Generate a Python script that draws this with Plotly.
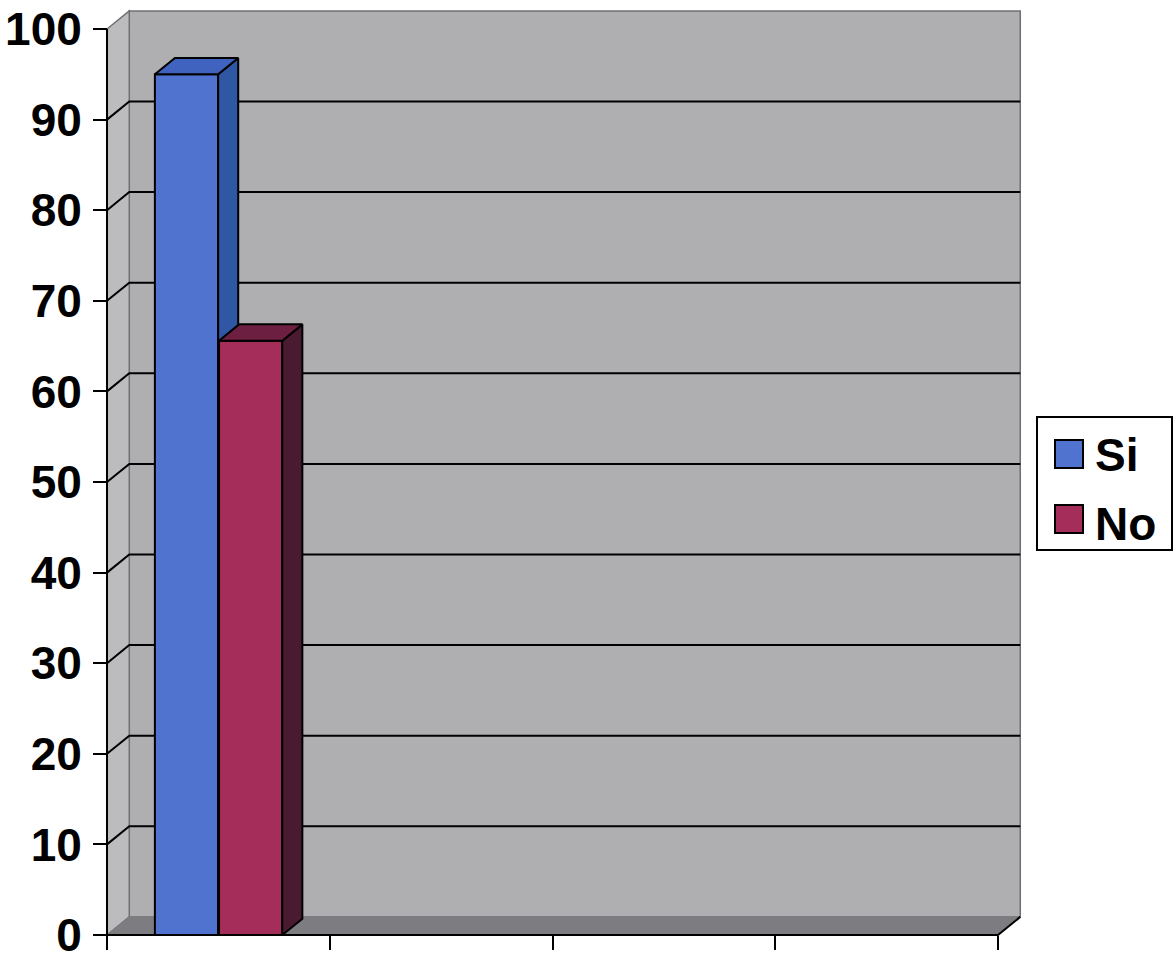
import plotly.graph_objects as go

# ---------------- data ----------------
categories = ["", "", "", ""]          # four category slots, no labels shown
series_names = ["Si", "No"]
si_values = [95, None, None, None]
no_values = [65.6, None, None, None]
y_ticks = [0, 10, 20, 30, 40, 50, 60, 70, 80, 90, 100]

# ---------------- style / geometry ----------------
W, H = 1174, 957
PX_X0, PX_PER_X = 107, 222.75      # pixel of x=0, pixels per category
PY_Y0, PX_PER_Y = 935, 9.06        # pixel of y=0, pixels per unit
ML, MR, MT, MB = 103, 150, 8, 19
DX, DY = 0.1, 2.0                  # chart depth (x units, y units)
BAR_DX, BAR_DY = 0.09, 1.8         # bar depth
BAR_START, BAR_W, BAR_GAP = 0.215, 0.284, 0.004

x_min = (ML - PX_X0) / PX_PER_X
x_max = (W - MR - PX_X0) / PX_PER_X
y_min = (PY_Y0 - (H - MB)) / PX_PER_Y
y_max = (PY_Y0 - MT) / PX_PER_Y
plot_w = W - ML - MR
plot_h = H - MT - MB

FONT = "Liberation Sans, Arial, sans-serif"
COLORS = {
    "Si": dict(front="#4F73CE", side="#2F57A3", top="#3F63BF"),
    "No": dict(front="#A52D59", side="#4A1B30", top="#6C1F40"),
}
WALL_BACK = "#AFAFB2"
WALL_SIDE = "#BCBCBF"
FLOOR = "#7D7D81"
WALL_EDGE = "#707074"


def px2paper_x(px):
    return (px - ML) / plot_w


def px2paper_y(py):
    return (H - MB - py) / plot_h


n_cat = len(categories)
fig = go.Figure()


def path(points):
    return "M " + " L ".join(f"{x},{y}" for x, y in points) + " Z"


# walls and floor (background structure)
shapes = [
    dict(type="path", xref="x", yref="y", layer="below",
         path=path([(DX, DY), (n_cat + DX, DY), (n_cat + DX, 100 + DY), (DX, 100 + DY)]),
         fillcolor=WALL_BACK, line=dict(color=WALL_EDGE, width=1.5)),
    dict(type="path", xref="x", yref="y", layer="below",
         path=path([(0, 0), (DX, DY), (DX, 100 + DY), (0, 100)]),
         fillcolor=WALL_SIDE, line=dict(color=WALL_EDGE, width=1.5)),
    dict(type="path", xref="x", yref="y", layer="below",
         path=path([(0, 0), (n_cat, 0), (n_cat + DX, DY), (DX, DY)]),
         fillcolor=FLOOR, line=dict(color=FLOOR, width=0.5)),
]

# gridlines on side + back wall
gx, gy = [], []
for v in y_ticks[1:-1]:
    gx += [0, DX, n_cat + DX, None]
    gy += [v, v + DY, v + DY, None]
fig.add_trace(go.Scatter(x=gx, y=gy, mode="lines", line=dict(color="black", width=2),
                         hoverinfo="skip", showlegend=False))

# front axis lines
fig.add_trace(go.Scatter(x=[0, 0, None, 0, n_cat, n_cat + DX],
                         y=[0, 100, None, 0, 0, DY], mode="lines",
                         line=dict(color="black", width=2), hoverinfo="skip",
                         showlegend=False))


# bars (front, side, top faces from the values)
def add_bar(name, values, offset):
    c = COLORS[name]
    for i, v in enumerate(values):
        if v is None:
            continue
        x0 = i + offset
        x1 = x0 + BAR_W
        faces = [
            ("front", [x0, x1, x1, x0, x0], [0, 0, v, v, 0]),
            ("side", [x1, x1 + BAR_DX, x1 + BAR_DX, x1, x1], [0, BAR_DY, v + BAR_DY, v, 0]),
            ("top", [x0, x1, x1 + BAR_DX, x0 + BAR_DX, x0], [v, v, v + BAR_DY, v + BAR_DY, v]),
        ]
        for face, fx, fy in faces:
            fig.add_trace(go.Scatter(
                x=fx, y=fy, mode="lines", fill="toself", fillcolor=c[face],
                line=dict(color="black", width=2), name=name,
                hovertemplate=f"{name}: {v}<extra></extra>", showlegend=False))


add_bar("Si", si_values, BAR_START)
add_bar("No", no_values, BAR_START + BAR_W + BAR_GAP)

# custom legend
lx0, lx1, ly0, ly1 = 1037, 1172, 417, 550
shapes.append(dict(type="rect", xref="paper", yref="paper",
                   x0=px2paper_x(lx0), x1=px2paper_x(lx1),
                   y0=px2paper_y(ly1), y1=px2paper_y(ly0),
                   fillcolor="white", line=dict(color="black", width=2)))
annotations = []
for k, name in enumerate(series_names):
    cy = 454 + k * 65
    shapes.append(dict(type="rect", xref="paper", yref="paper",
                       x0=px2paper_x(1055), x1=px2paper_x(1083),
                       y0=px2paper_y(cy + 14), y1=px2paper_y(cy - 14),
                       fillcolor=COLORS[name]["front"], line=dict(color="black", width=2)))
    annotations.append(dict(xref="paper", yref="paper", x=px2paper_x(1093),
                            y=px2paper_y(cy + 1 + 4 * k), xanchor="left", yanchor="middle",
                            text=name, showarrow=False,
                            font=dict(family=FONT, size=46, color="black", weight="bold")))

fig.update_layout(
    width=W, height=H,
    margin=dict(l=ML, r=MR, t=MT, b=MB, pad=0, autoexpand=False),
    paper_bgcolor="white", plot_bgcolor="white",
    shapes=shapes, annotations=annotations,
    showlegend=False,
    xaxis=dict(range=[x_min, x_max], tickvals=list(range(n_cat + 1)),
               ticktext=[""] * (n_cat + 1), ticks="outside", ticklen=14,
               tickwidth=2, tickcolor="black", showgrid=False, zeroline=False,
               showline=False, anchor="free", position=px2paper_y(PY_Y0),
               automargin=False, fixedrange=True),
    yaxis=dict(range=[y_min, y_max], tickvals=y_ticks, ticks="outside", ticklen=14,
               tickwidth=2, tickcolor="black", showgrid=False, zeroline=False,
               showline=False, anchor="free", position=px2paper_x(PX_X0),
               ticklabelstandoff=2, automargin=False, ticklabeloverflow="allow",
               tickfont=dict(family=FONT, size=46, color="black", weight="bold"),
               fixedrange=True),
)

fig.write_html(
    "out.html",
    config={"displayModeBar": False},
    post_script="document.body.style.margin='0';document.body.style.overflow='hidden';",
)
